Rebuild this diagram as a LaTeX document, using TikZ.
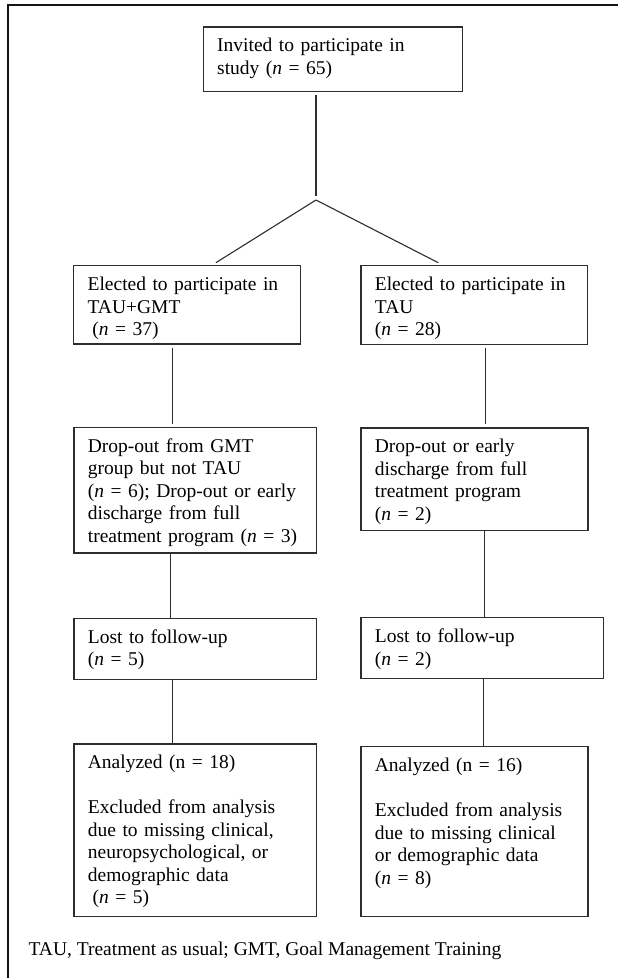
\documentclass[tikz,border=0pt]{standalone}
\usepackage{fontspec}
\setmainfont{Liberation Serif}
\usepackage{tikz}
\usetikzlibrary{positioning,calc}
\definecolor{InkGray}{RGB}{45,45,45}
\definecolor{FrameBlack}{RGB}{20,20,20}
\newcommand{\boxfont}{\fontsize{19.5}{22.5}\selectfont}
\newcommand{\nn}{\textit{n}}
\tikzset{
  box/.style={draw=InkGray,line width=1.2pt,anchor=north west,
    inner xsep=14pt,inner ysep=0pt,text height=25pt,align=left,font=\boxfont},
  link/.style={draw=InkGray,line width=1.1pt},
  frame/.style={draw=FrameBlack,line width=2pt}
}

\begin{document}
\begin{tikzpicture}[x=1pt,y=-1pt]
  \useasboundingbox (0,0) rectangle (618,978);
  \draw[frame] (8,978) -- (8,5) -- (618,5);

  % enrolment
  \node[box,text width=231pt,text depth=39.7pt] (invite) at (202.6,26.3)
    {Invited to participate in\\study (\nn~=~65)};
  \coordinate (split) at (316,200);

  % left arm
  \node[box,text width=198.6pt,text depth=53.3pt] (gmt) at (73,265)
    {Elected to participate in\\TAU+GMT\\\hspace*{4.7pt}(\nn~=~37)};
  \node[box,text width=214.7pt,text depth=100.6pt] (gmtdrop) at (73.3,426.7)
    {Drop-out from GMT\\group but not TAU\\(\nn~=~6); Drop-out or early\\discharge from full\\treatment program (\nn~=~3)};
  \node[box,text width=214.7pt,text depth=36.3pt] (gmtlost) at (73.3,617.7)
    {Lost to follow-up\\(\nn~=~5)};
  \node[box,text width=214.7pt,text depth=147.7pt] (gmtdone) at (73.3,743.3)
    {Analyzed (n = 18)\\[22.5pt]Excluded from analysis\\due to missing clinical,\\neuropsychological, or\\demographic data\\\hspace*{4.7pt}(\nn~=~5)};

  % right arm
  \node[box,text width=198.7pt,text depth=54pt] (tau) at (360.3,265)
    {Elected to participate in\\TAU\\(\nn~=~28)};
  \node[box,text width=199pt,text depth=77.7pt] (taudrop) at (360.3,427.3)
    {Drop-out or early\\discharge from full\\treatment program\\(\nn~=~2)};
  \node[box,text width=214.7pt,text depth=36pt] (taulost) at (360.3,617)
    {Lost to follow-up\\(\nn~=~2)};
  \node[box,text width=199pt,text depth=145pt] (taudone) at (360.3,746)
    {Analyzed (n = 16)\\[22.5pt]Excluded from analysis\\due to missing clinical\\or demographic data\\(\nn~=~8)};

  \node[anchor=base west,inner sep=0pt,font=\boxfont] (legend) at (28.4,955)
    {TAU, Treatment as usual; GMT, Goal Management Training};

  % connectors
  \draw[link,shorten <=3pt] (invite.south -| split) -- ([yshift=4pt]split);
  \draw[link] (split) -- ([xshift=29pt,yshift=2.3pt]gmt.north);
  \draw[link] (split) -- ([xshift=-36pt,yshift=2.3pt]tau.north);
  \draw[link,shorten <=3pt,shorten >=3pt] ([xshift=-14.4pt]gmt.south) -- ([xshift=-14.4pt]gmt.south |- gmtdrop.north);
  \draw[link] ([xshift=-24.7pt]gmtdrop.south) -- ([xshift=-24.7pt]gmtdrop.south |- gmtlost.north);
  \draw[link] ([xshift=-22.5pt]gmtlost.south) -- ([xshift=-22.5pt]gmtlost.south |- gmtdone.north);
  \draw[link,shorten <=3pt,shorten >=3pt] ([xshift=11pt]tau.south) -- ([xshift=11pt]tau.south |- taudrop.north);
  \draw[link] ([xshift=10.2pt]taudrop.south) -- ([xshift=10.2pt]taudrop.south |- taulost.north);
  \draw[link] ([xshift=9.5pt]taudone.north |- taulost.south) -- ([xshift=9.5pt]taudone.north);
\end{tikzpicture}
\end{document}
